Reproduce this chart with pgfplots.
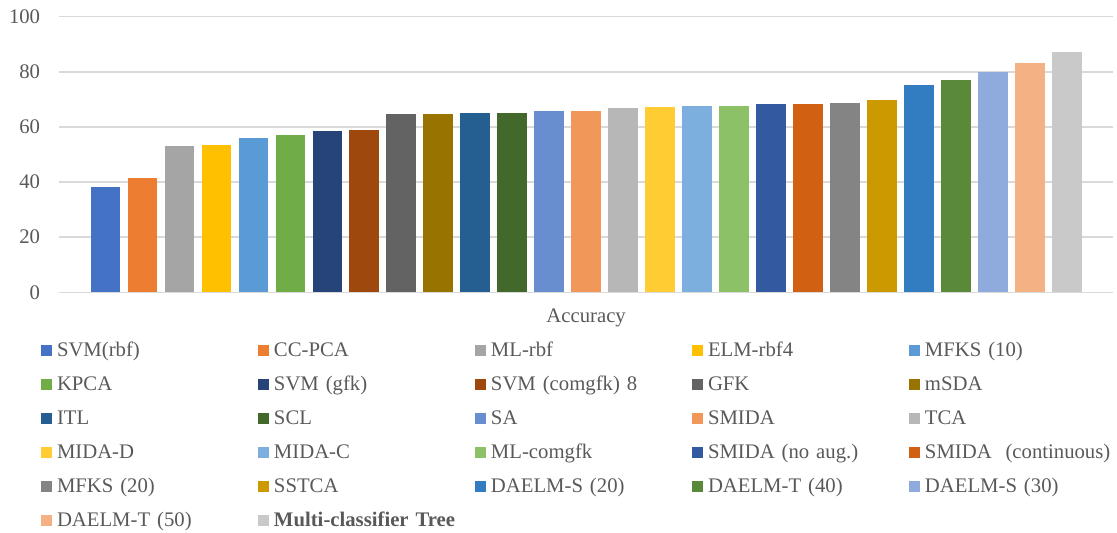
\documentclass[border=0pt]{standalone}
\usepackage{fontspec}
\setmainfont{Liberation Serif}
\usepackage{pgfplots}
\pgfplotsset{compat=1.18}

\definecolor{labelgray}{HTML}{595959}
\definecolor{gridgray}{HTML}{D9D9D9}
\definecolor{c1}{HTML}{4472C4}
\definecolor{c2}{HTML}{ED7D31}
\definecolor{c3}{HTML}{A5A5A5}
\definecolor{c4}{HTML}{FFC000}
\definecolor{c5}{HTML}{5B9BD5}
\definecolor{c6}{HTML}{70AD47}
\definecolor{c7}{HTML}{264478}
\definecolor{c8}{HTML}{9E480E}
\definecolor{c9}{HTML}{636363}
\definecolor{c10}{HTML}{997300}
\definecolor{c11}{HTML}{255E91}
\definecolor{c12}{HTML}{43682B}
\definecolor{c13}{HTML}{698ED0}
\definecolor{c14}{HTML}{F1975A}
\definecolor{c15}{HTML}{B7B7B7}
\definecolor{c16}{HTML}{FFCD33}
\definecolor{c17}{HTML}{7CAFDD}
\definecolor{c18}{HTML}{8CC168}
\definecolor{c19}{HTML}{335AA1}
\definecolor{c20}{HTML}{D26012}
\definecolor{c21}{HTML}{848484}
\definecolor{c22}{HTML}{CC9A00}
\definecolor{c23}{HTML}{327DC2}
\definecolor{c24}{HTML}{5A8A39}
\definecolor{c25}{HTML}{8FAADC}
\definecolor{c26}{HTML}{F4B183}
\definecolor{c27}{HTML}{C9C9C9}

% one bar per method, with a square legend swatch
\pgfplotsset{sq/.style={fill=#1, draw=none, bar shift=0pt,
    legend image code/.code={\fill[fill=#1] (0bp,0bp) rectangle (11bp,11bp);}}}

\begin{document}
\begin{tikzpicture}[font=\fontsize{20.8}{24}\selectfont]
\begin{axis}[
  scale only axis, width=1053.7bp, height=275.6bp,
  ymin=0, ymax=100, xmin=-0.25, xmax=28.25,
  ytick={0,20,...,100}, xtick=\empty,
  ymajorgrids, grid style={draw=gridgray, line width=1.5bp},
  axis line style={draw=none},
  major tick length=0pt,
  ybar, bar width=29.7bp,
  yticklabel style={text=labelgray, inner sep=0pt, xshift=-19bp},
  /pgf/number format/assume math mode=true,
  xlabel={Accuracy},
  xlabel style={at={(axis description cs:0.5,0)}, anchor=center, yshift=-26bp, text=labelgray},
  legend columns=5,
  legend style={at={(axis description cs:0,0)}, anchor=north west,
    xshift=-18.3bp, yshift=-49.7bp, draw=none, fill=none,
    inner sep=0pt, outer sep=0pt, row sep=15bp, column sep=0pt,
    cells={anchor=base west},
    nodes={inner sep=0pt, text width=201bp, text height=14bp, text depth=5bp, text=labelgray},
    /tikz/every odd column/.append style={column sep=5bp}},
]
\addplot[sq=c1]  coordinates {(1,38.2)};  \addlegendentry{SVM(rbf)}
\addplot[sq=c2]  coordinates {(2,41.5)};  \addlegendentry{CC-PCA}
\addplot[sq=c3]  coordinates {(3,53.1)};  \addlegendentry{ML-rbf}
\addplot[sq=c4]  coordinates {(4,53.5)};  \addlegendentry{ELM-rbf4}
\addplot[sq=c5]  coordinates {(5,56.0)};  \addlegendentry{MFKS (10)}
\addplot[sq=c6]  coordinates {(6,57.1)};  \addlegendentry{KPCA}
\addplot[sq=c7]  coordinates {(7,58.5)};  \addlegendentry{SVM (gfk)}
\addplot[sq=c8]  coordinates {(8,58.9)};  \addlegendentry{SVM (comgfk) 8}
\addplot[sq=c9]  coordinates {(9,64.7)};  \addlegendentry{GFK}
\addplot[sq=c10] coordinates {(10,64.7)}; \addlegendentry{mSDA}
\addplot[sq=c11] coordinates {(11,65.1)}; \addlegendentry{ITL}
\addplot[sq=c12] coordinates {(12,65.1)}; \addlegendentry{SCL}
\addplot[sq=c13] coordinates {(13,65.8)}; \addlegendentry{SA}
\addplot[sq=c14] coordinates {(14,65.8)}; \addlegendentry{SMIDA}
\addplot[sq=c15] coordinates {(15,66.9)}; \addlegendentry{TCA}
\addplot[sq=c16] coordinates {(16,67.3)}; \addlegendentry{MIDA-D}
\addplot[sq=c17] coordinates {(17,67.6)}; \addlegendentry{MIDA-C}
\addplot[sq=c18] coordinates {(18,67.6)}; \addlegendentry{ML-comgfk}
\addplot[sq=c19] coordinates {(19,68.4)}; \addlegendentry{SMIDA (no aug.)}
\addplot[sq=c20] coordinates {(20,68.4)}; \addlegendentry{SMIDA\ \ (continuous)}
\addplot[sq=c21] coordinates {(21,68.7)}; \addlegendentry{MFKS (20)}
\addplot[sq=c22] coordinates {(22,69.8)}; \addlegendentry{SSTCA}
\addplot[sq=c23] coordinates {(23,75.3)}; \addlegendentry{DAELM-S (20)}
\addplot[sq=c24] coordinates {(24,77.1)}; \addlegendentry{DAELM-T (40)}
\addplot[sq=c25] coordinates {(25,80.0)}; \addlegendentry{DAELM-S (30)}
\addplot[sq=c26] coordinates {(26,83.3)}; \addlegendentry{DAELM-T (50)}
\addplot[sq=c27] coordinates {(27,87.3)}; \addlegendentry{\textbf{Multi-classifier Tree}}
\end{axis}
\pgfresetboundingbox
\path (-59.3bp,-240.7bp) rectangle (1057.7bp,292.3bp);
\end{tikzpicture}
\end{document}
